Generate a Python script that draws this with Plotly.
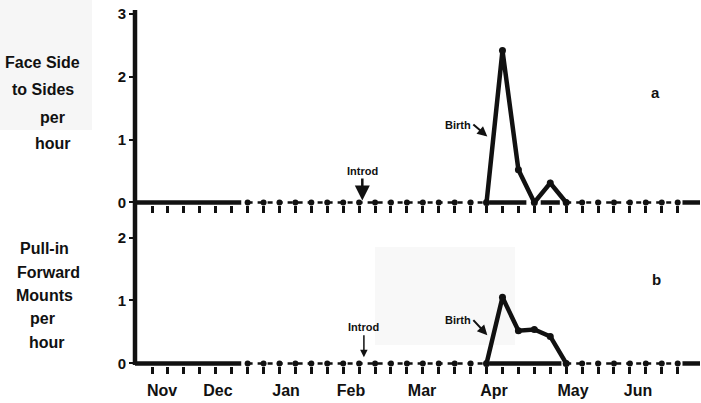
import plotly.graph_objects as go

# ---------------- data ----------------
month_labels = ["Nov", "Dec", "Jan", "Feb", "Mar", "Apr", "May", "Jun"]
month_pos = [0.63, 4.14, 8.41, 12.49, 16.95, 21.47, 26.43, 30.51]   # in weeks
week_ticks = list(range(0, 34))

zero_weeks_pre = list(range(6, 22))     # observed weeks with zero rate before birth
zero_weeks_post = list(range(26, 34))   # observed weeks with zero rate after

event_weeks = [21, 22, 23, 24, 25, 26]
face_vals = [0, 2.42, 0.52, 0, 0.31, 0]        # Face Side to Sides per hour
mount_vals = [0, 1.05, 0.52, 0.54, 0.43, 0]    # Pull-in Forward Mounts per hour

face_solid = [(-1.07, 5.6), (21.2, 23.5), (24.4, 25.6), (33.3, 34.4)]
mount_solid = [(-1.07, 5.6), (21.2, 25.7), (33.3, 34.4)]

top_title = ["Face Side", "to Sides", "per", "hour"]
bottom_title = ["Pull-in", "Forward", "Mounts", "per", "hour"]

introd_week = 13.2
birth_week = 21

# ---------------- figure ----------------
FONT = "Liberation Sans"
fig = go.Figure()

def add_panel(ya, xa, vals, solids):
    for a, b in solids:
        fig.add_trace(go.Scatter(x=[a, b], y=[0, 0], mode="lines",
                                 line=dict(color="#111", width=4.5),
                                 xaxis=xa, yaxis=ya, hoverinfo="skip",
                                 showlegend=False, cliponaxis=False))
    for wk in (zero_weeks_pre, zero_weeks_post):
        fig.add_trace(go.Scatter(x=wk, y=[0] * len(wk), mode="lines+markers",
                                 line=dict(color="#111", width=2.5, dash="5px,5px"),
                                 marker=dict(color="#111", size=6),
                                 xaxis=xa, yaxis=ya, showlegend=False,
                                 cliponaxis=False))
    fig.add_trace(go.Scatter(x=event_weeks, y=vals, mode="lines+markers",
                             line=dict(color="#111", width=4.5),
                             marker=dict(color="#111", size=7),
                             xaxis=xa, yaxis=ya, showlegend=False,
                             cliponaxis=False))

add_panel("y", "x", face_vals, face_solid)
add_panel("y2", "x2", mount_vals, mount_solid)

H = 403
top_px, mid_px, bot_px = 10, 205, 366
plot_h = bot_px - top_px
PW = 565
def py(px):
    return (bot_px - px) / plot_h
def pxx(px):
    return (px - 135) / PW

xcommon = dict(range=[-1.07, 34.4], showgrid=False, zeroline=False, showline=False,
               minor=dict(tickvals=week_ticks, ticks="outside", ticklen=7,
                          tickwidth=2.5, tickcolor="#111"))

yfont = dict(family=FONT, size=15, color="#111", weight="bold")
mfont = dict(family=FONT, size=16, color="#111", weight="bold")
fig.update_layout(
    width=701, height=403,
    margin=dict(l=135, r=1, t=top_px, b=H - bot_px),
    paper_bgcolor="white", plot_bgcolor="white",
    font=dict(family=FONT, color="#111"),
    xaxis=dict(**xcommon, anchor="y", showticklabels=False, ticks=""),
    xaxis2=dict(**xcommon, anchor="y2", tickvals=month_pos, ticktext=month_labels,
                ticks="", ticklabelstandoff=13, tickfont=mfont),
    yaxis=dict(domain=[py(mid_px), 1], range=[-0.04, 3.065], tickvals=[0, 1, 2, 3],
               ticks="outside", ticklen=5, tickwidth=2, tickcolor="#111",
               showgrid=False, zeroline=False, showline=False, tickfont=yfont),
    yaxis2=dict(domain=[0, py(mid_px)], range=[-0.04, 2.516], tickvals=[0, 1, 2],
                ticks="outside", ticklen=5, tickwidth=2, tickcolor="#111",
                showgrid=False, zeroline=False, showline=False, tickfont=yfont),
)

# vertical axis line spanning both panels
fig.add_shape(type="line", xref="paper", yref="paper", x0=0, x1=0,
              y0=py(365), y1=1, line=dict(color="#111", width=4.5))

# faint scan background patches
fig.add_shape(type="rect", xref="paper", yref="paper", layer="below",
              x0=pxx(0), x1=pxx(92), y0=py(130), y1=py(-10),
              fillcolor="#f6f6f6", line=dict(width=0))
fig.add_shape(type="rect", xref="paper", yref="paper", layer="below",
              x0=pxx(375), x1=pxx(515), y0=py(345), y1=py(247),
              fillcolor="#f8f8f8", line=dict(width=0))

tfont = dict(family=FONT, size=16, color="#111", weight="bold")
lfont = dict(family=FONT, size=15, color="#111", weight="bold")
sfont = dict(family=FONT, size=11, color="#111", weight="bold")

# axis titles (left), one annotation per line for the wide line spacing
for txt, xc, yc in zip(top_title, [42, 43, 52, 53], [62, 89, 117, 143]):
    fig.add_annotation(xref="paper", yref="paper", x=pxx(xc), y=py(yc), text=txt,
                       showarrow=False, font=tfont, xanchor="center", yanchor="middle")
for txt, xc, yc in zip(bottom_title, [44, 48, 44, 42, 47], [248, 272, 295, 318, 342]):
    fig.add_annotation(xref="paper", yref="paper", x=pxx(xc), y=py(yc), text=txt,
                       showarrow=False, font=tfont, xanchor="center", yanchor="middle")

# panel letters
fig.add_annotation(xref="x", yref="y", x=(655 - 152) / 15.93, y=(202.5 - 93) / 62.8,
                   text="a", showarrow=False, font=lfont)
fig.add_annotation(xref="x2", yref="y2", x=(656 - 152) / 15.93, y=(363 - 279) / 63,
                   text="b", showarrow=False, font=lfont)

# event markers
fig.add_annotation(xref="x", yref="y", x=introd_week, y=0.03, ax=0, ay=-22,
                   text="Introd", showarrow=True, arrowhead=2, arrowsize=1.2,
                   arrowwidth=2.5, arrowcolor="#111", font=sfont, yanchor="bottom")
fig.add_annotation(xref="x", yref="y", x=birth_week + 0.05, y=1.05, ax=-14, ay=-12,
                   text="Birth", showarrow=True, arrowhead=2, arrowsize=1,
                   arrowwidth=2, arrowcolor="#111", font=sfont, xanchor="right")
fig.add_annotation(xref="x2", yref="y2", x=introd_week + 0.1, y=0.1, ax=0, ay=-22,
                   text="Introd", showarrow=True, arrowhead=2, arrowsize=1,
                   arrowwidth=1.5, arrowcolor="#111", font=sfont, yanchor="bottom")
fig.add_annotation(xref="x2", yref="y2", x=birth_week + 0.05, y=0.45, ax=-14, ay=-15,
                   text="Birth", showarrow=True, arrowhead=2, arrowsize=1,
                   arrowwidth=2, arrowcolor="#111", font=sfont, xanchor="right")

fig.write_html("out.html")
